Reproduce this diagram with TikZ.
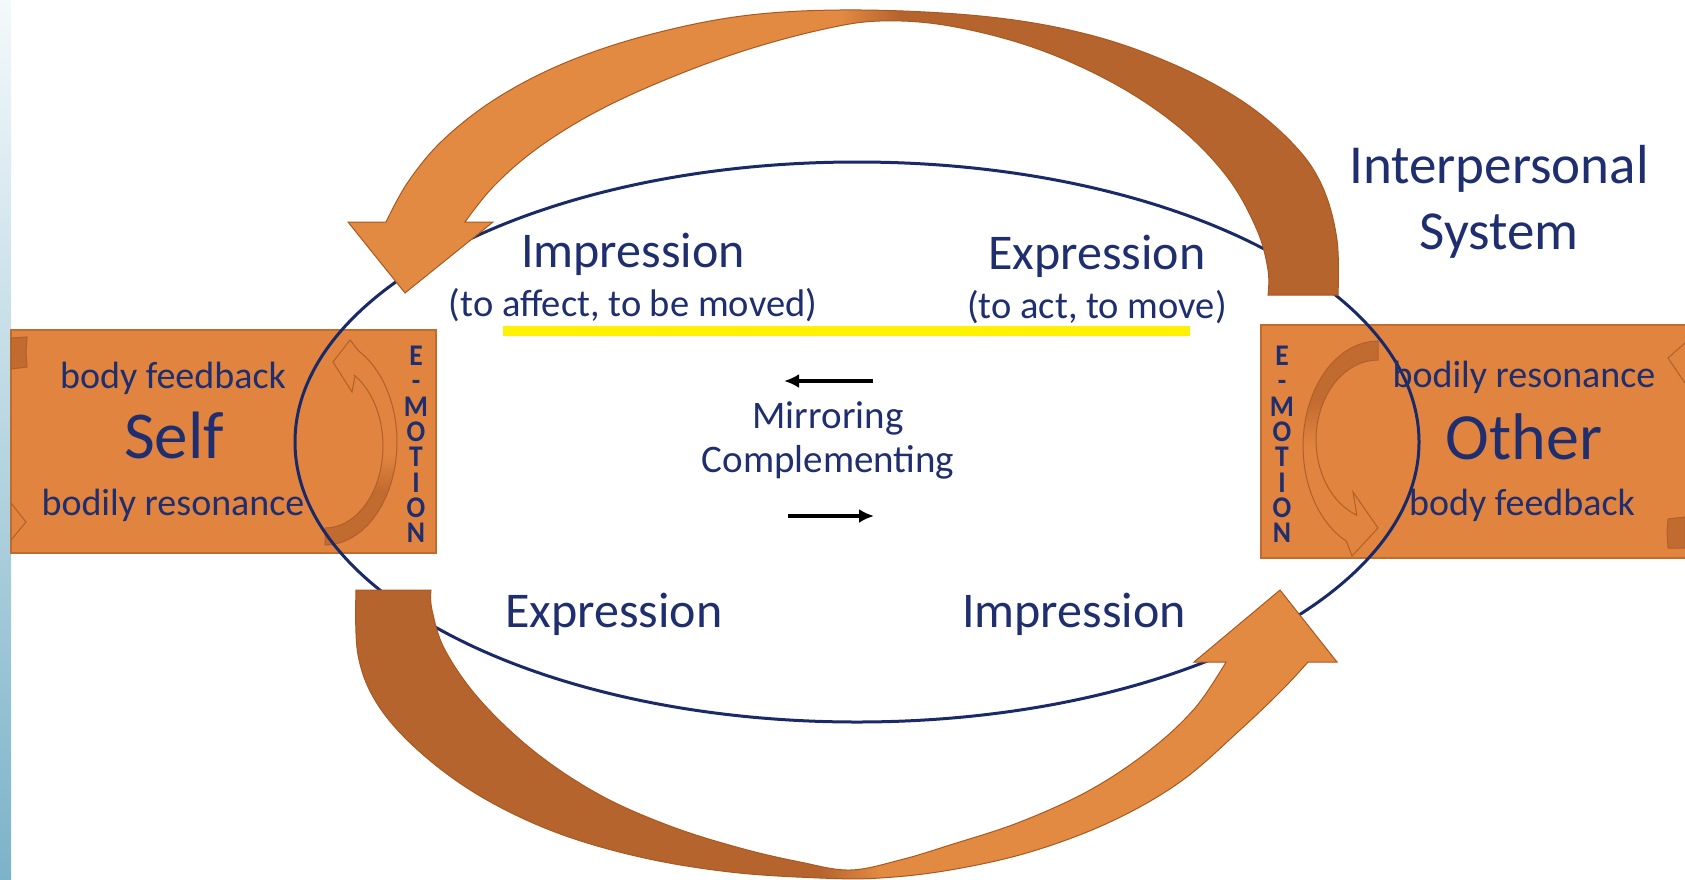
\documentclass[tikz,border=0pt]{standalone}
\usepackage{fontspec}
\setmainfont{Carlito}
\usetikzlibrary{arrows.meta}
\definecolor{navy}{HTML}{1F2E6E}
\definecolor{ellcol}{HTML}{1A2968}
\definecolor{boxfill}{HTML}{E0843F}
\definecolor{boxline}{HTML}{C06C2C}
\definecolor{arrlight}{HTML}{E38A42}
\definecolor{arrdark}{HTML}{B5642E}
\definecolor{arredge}{HTML}{A9581F}
\definecolor{emdark}{HTML}{C26B30}
\definecolor{emline}{HTML}{B0602A}
\definecolor{stripTop}{HTML}{F4F9FB}
\definecolor{stripMid}{HTML}{DDEDF3}
\definecolor{stripBot}{HTML}{7CB3C8}
\newcommand\FS[1]{\fontsize{#1}{#1}\selectfont}
\newcommand\EL[1]{\scalebox{1.15}[1.25]{#1}}
\newcommand\TopArrowPath{plot[smooth,tension=0.6] coordinates {(1338,295) (1337,240) (1323,188) (1296,147) (1245,103) (1175,65) (1090,35) (990,17) (862,10) (750,15) (652,34) (567,62) (497,98) (443,140) (408,182) (386,222)} -- (348,222) -- (405,293) -- (493,222) -- (465,222) -- plot[smooth,tension=0.6] coordinates {(465,222) (493,187) (535,150) (592,114) (660,82) (740,52) (820,30) (880,21) (950,26) (1035,48) (1115,84) (1180,128) (1228,178) (1257,230) (1268,270) (1268,295)} -- cycle}
\newcommand\BotArrowPath{plot[smooth,tension=0.6] coordinates {(356,590) (358,655) (378,705) (420,752) (480,796) (555,832) (640,857) (730,872) (820,878) (880,878) (950,870) (1030,852) (1110,822) (1180,782) (1240,730) (1282,690) (1308,662)} -- (1337,662) -- (1280,590) -- (1194,662) -- (1226,662) -- plot[smooth,tension=0.6] coordinates {(1226,662) (1195,708) (1150,750) (1090,790) (1020,822) (950,845) (900,860) (850,870) (800,862) (740,848) (670,826) (600,795) (535,752) (480,700) (445,650) (432,610) (431,590)} -- cycle}
\newcommand\LeftEArrow{(325,545) -- plot[domain=90:-62,samples=30,variable=\t] ({325+72*cos(\t)},{442+103*sin(\t)}) -- (350,340) -- (333,362) -- (352,392) -- (355,376) -- plot[domain=-60:90,samples=30,variable=\t] ({325+58*cos(\t)},{446+82*sin(\t)}) -- cycle}
\newcommand\RightEArrow{(1378,341) -- plot[domain=270:115,samples=30,variable=\t] ({1378+75*cos(\t)},{446+105*sin(\t)}) -- (1352,556) -- (1378,528) -- (1353,492) -- plot[domain=110:270,samples=30,variable=\t] ({1378+62*cos(\t)},{440+80*sin(\t)}) -- cycle}
\begin{document}
\begin{tikzpicture}[x=1pt,y=-1pt,
  lbl/.style={text=navy, inner sep=0pt, anchor=base},
  emtxt/.style={text=navy, inner sep=0pt, anchor=north, align=center, font=\fontsize{24}{25.3}\selectfont\bfseries},
  orangebox/.style={draw=boxline, fill=boxfill, line width=1.5pt, inner sep=0pt, outer sep=0pt},
  mirr/.style={draw=black, line width=3.5pt, -{Latex[length=15pt,width=14pt]}},
  emarrow/.style={draw=emline, line width=1pt},
]
\useasboundingbox (0,0) rectangle (1685,879);
\fill[white] (0,0) rectangle (1685,879);
\shade[top color=stripTop, middle color=stripMid, bottom color=stripBot] (0,0) rectangle (11,879);

% boxes
\node[orangebox, minimum width=425pt, minimum height=223pt] (selfbox) at (223.5,441.5) {};
\node[orangebox, minimum width=440pt, minimum height=233pt] (otherbox) at (1481,441.5) {};

% E-motion arrows inside boxes
\begin{scope}
  \clip \LeftEArrow;
  \shade[top color=boxfill, bottom color=emdark] (300,455) rectangle (420,492);
  \fill[emdark] (300,491) rectangle (420,560);
\end{scope}
\draw[emarrow] \LeftEArrow;
\begin{scope}
  \clip \RightEArrow;
  \fill[emdark] (1290,320) rectangle (1400,400);
  \shade[top color=emdark, bottom color=boxfill] (1290,399) rectangle (1400,445);
\end{scope}
\draw[emarrow] \RightEArrow;

% partial shapes at the picture edges
\filldraw[fill=emdark, draw=emline, line width=1pt] (11,338) -- (27,337) -- (26,352) -- (27,367) -- (11,369) -- cycle;
\draw[emarrow] (11,503) -- (26,522) -- (11,540);
\draw[emarrow] (1685,343) -- (1668,358) -- (1685,383);
\filldraw[fill=emdark, draw=emline, line width=1pt] (1685,517) -- (1668,519) -- (1667,533) -- (1668,548) -- (1685,548) -- cycle;

% interpersonal ellipse
\draw[ellcol, line width=3pt] (857,442) ellipse [x radius=562, y radius=280];

% big curved arrows
\begin{scope}
  \clip \TopArrowPath;
  \fill[arrlight] (300,0) rectangle (841,320);
  \shade[left color=arrlight, right color=arrdark] (840,0) rectangle (900,320);
  \fill[arrdark] (899,0) rectangle (1400,320);
\end{scope}
\draw[arredge, line width=1pt] \TopArrowPath;
\begin{scope}
  \clip \BotArrowPath;
  \fill[arrdark] (300,560) rectangle (821,890);
  \shade[left color=arrdark, right color=arrlight] (820,560) rectangle (880,890);
  \fill[arrlight] (879,560) rectangle (1400,890);
\end{scope}
\draw[arredge, line width=1pt] \BotArrowPath;

% yellow highlight
\fill[yellow] (503,326) rectangle (1190,336);

% texts
\node[lbl, font=\FS{50}] (impT) at (633,267) {Impression};
\node[lbl, font=\FS{38.5}] (impTsub) at (633,316) {(to affect, to be moved)};
\node[lbl, font=\FS{50}] (expT) at (1097,269) {Expression};
\node[lbl, font=\FS{38.5}] (expTsub) at (1097,318) {(to act, to move)};
\node[lbl, font=\FS{55}] (interp) at (1499,183) {Interpersonal};
\node[lbl, font=\FS{55}] (system) at (1499,249) {System};
\node[lbl, font=\FS{39}] (mirr) at (828,428) {Mirroring};
\node[lbl, font=\FS{39}] (compl) at (828,472) {Complementing};
\node[lbl, font=\FS{50}] (expB) at (614,627) {Expression};
\node[lbl, font=\FS{50}] (impB) at (1074,627) {Impression};
\node[lbl, font=\FS{38}] (bfL) at (173,388) {body feedback};
\node[lbl, font=\FS{67}] (self) at (174,458) {Self};
\node[lbl, font=\FS{38}] (brL) at (173,515) {bodily resonance};
\node[lbl, font=\FS{38}] (brR) at (1524,387) {bodily resonance};
\node[lbl, font=\FS{66}] (other) at (1524,459) {Other};
\node[lbl, font=\FS{38}] (bfR) at (1522,515) {body feedback};
\node[emtxt] (emL) at (416,346) {\EL{E}\\\EL{-}\\\EL{M}\\\EL{O}\\\EL{T}\\\EL{I}\\\EL{O}\\\EL{N}};
\node[emtxt] (emR) at (1282,346) {\EL{E}\\\EL{-}\\\EL{M}\\\EL{O}\\\EL{T}\\\EL{I}\\\EL{O}\\\EL{N}};

% mirroring arrows
\coordinate (ma1s) at (873,381);
\coordinate (ma1e) at (784,381);
\coordinate (ma2s) at (788,516);
\coordinate (ma2e) at (874,516);
\draw[mirr] (ma1s) -- (ma1e);
\draw[mirr] (ma2s) -- (ma2e);
\end{tikzpicture}
\end{document}
